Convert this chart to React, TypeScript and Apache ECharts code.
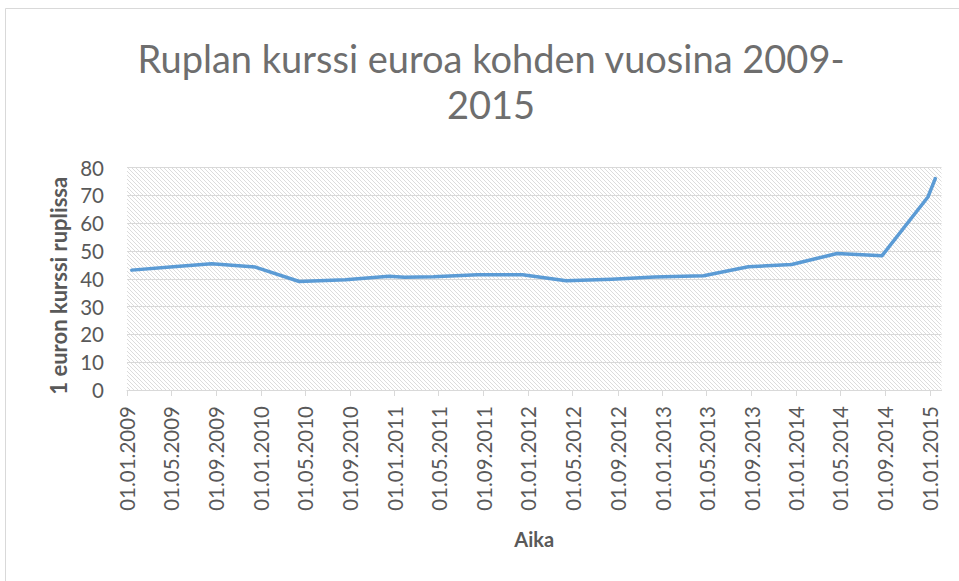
import React, { useEffect, useRef } from "react";
import * as echarts from "echarts";

const titleText = "Ruplan kurssi euroa kohden vuosina 2009-\n2015";
const yAxisTitle = "1 euron kurssi ruplissa";
const xAxisTitle = "Aika";

const dates = [
  "2009-01-14", "2009-05-07", "2009-08-20", "2009-12-17", "2010-04-16",
  "2010-08-20", "2010-12-17", "2011-01-28", "2011-04-17", "2011-08-15",
  "2011-12-16", "2012-04-13", "2012-08-15", "2012-12-10", "2013-04-23",
  "2013-08-23", "2013-12-19", "2014-04-22", "2014-08-23", "2014-12-26",
  "2015-01-15",
];
const rates = [
  43.1, 44.3, 45.4, 44.2, 39.0,
  39.6, 40.9, 40.5, 40.7, 41.4,
  41.4, 39.3, 39.8, 40.6, 41.1,
  44.3, 45.1, 49.1, 48.3, 69.4,
  76.0,
];

const tickLabels = [
  "01.01.2009", "01.05.2009", "01.09.2009", "01.01.2010", "01.05.2010",
  "01.09.2010", "01.01.2011", "01.05.2011", "01.09.2011", "01.01.2012",
  "01.05.2012", "01.09.2012", "01.01.2013", "01.05.2013", "01.09.2013",
  "01.01.2014", "01.05.2014", "01.09.2014", "01.01.2015",
];
const xMinDate = "01.01.2009";
const xMaxDate = "01.02.2015";
const yTicks = [0, 10, 20, 30, 40, 50, 60, 70, 80];

const isoToTs = (s: string) => {
  const [y, m, d] = s.split("-").map(Number);
  return Date.UTC(y, m - 1, d);
};
const fiToTs = (s: string) => {
  const [d, m, y] = s.split(".").map(Number);
  return Date.UTC(y, m - 1, d);
};

const FONT = "Lato, 'Open Sans', sans-serif";
const TEXT = "#595959";
const LIGHT = "#d9d9d9";

const hatchSvg =
  "data:image/svg+xml;charset=utf-8," +
  encodeURIComponent(
    "<svg xmlns='http://www.w3.org/2000/svg' width='4' height='4'>" +
      "<path d='M-1,-1 L5,5 M-1,3 L1,5 M3,-1 L5,1' stroke='#dcdcdc' stroke-width='1' fill='none'/>" +
      "</svg>"
  );

export default function App() {
  const ref = useRef<HTMLDivElement>(null);

  useEffect(() => {
    if (!ref.current) return;
    const chart = echarts.init(ref.current, undefined, { renderer: "svg" });
    const tickTs = tickLabels.map(fiToTs);
    const labelMap = new Map<number, string>();
    tickTs.forEach((t, i) => labelMap.set(t, tickLabels[i]));
    const seriesData = dates.map((d, i) => [isoToTs(d), rates[i]]);

    chart.setOption({
      animation: false,
      backgroundColor: "#ffffff",
      textStyle: { fontFamily: FONT },
      graphic: [
        {
          type: "rect",
          shape: { x: 5.5, y: 8.5, width: 1000, height: 1000 },
          style: { fill: "none", stroke: LIGHT, lineWidth: 1 },
          silent: true,
        },
        {
          type: "text",
          x: 491,
          y: 35,
          style: {
            text: titleText,
            fill: "#6e6e6e",
            font: `38px ${FONT}`,
            textAlign: "center",
            lineHeight: 46,
          },
        },
      ],
      grid: {
        show: true,
        left: 127,
        right: 17.5,
        top: 167.5,
        bottom: 191,
        borderWidth: 0,
        backgroundColor: {
          image: hatchSvg,
          repeat: "repeat",
          imageWidth: 4,
          imageHeight: 4,
        },
      },
      xAxis: {
        type: "value",
        min: fiToTs(xMinDate),
        max: fiToTs(xMaxDate),
        name: xAxisTitle,
        nameLocation: "middle",
        nameGap: 139,
        nameTextStyle: {
          color: TEXT,
          fontSize: 20,
          fontWeight: "bold",
          fontFamily: FONT,
        },
        axisLine: { show: true, lineStyle: { color: LIGHT, width: 1 } },
        axisTick: {
          show: true,
          length: 6,
          customValues: tickTs,
          lineStyle: { color: LIGHT },
        },
        axisLabel: {
          customValues: tickTs,
          rotate: 90,
          margin: 16,
          color: TEXT,
          fontSize: 20.5,
          fontFamily: FONT,
          formatter: (v: number) => labelMap.get(v) ?? "",
        },
        splitLine: { show: false },
      },
      yAxis: {
        type: "value",
        min: yTicks[0],
        max: yTicks[yTicks.length - 1],
        interval: yTicks[1] - yTicks[0],
        name: yAxisTitle,
        nameLocation: "middle",
        nameRotate: 90,
        nameGap: 55,
        nameTextStyle: {
          color: TEXT,
          fontSize: 22,
          fontWeight: "bold",
          fontFamily: FONT,
          padding: [0, 14, 0, 0],
        },
        axisLine: { show: false },
        axisTick: { show: false },
        axisLabel: {
          color: TEXT,
          fontSize: 20.5,
          fontFamily: FONT,
          margin: 23,
        },
        splitLine: { show: true, lineStyle: { color: LIGHT, width: 1 } },
      },
      series: [
        {
          type: "line",
          data: seriesData,
          showSymbol: false,
          symbol: "none",
          lineStyle: { color: "#5b9bd5", width: 3.5, cap: "round", join: "round" },
          itemStyle: { color: "#5b9bd5" },
        },
      ],
    });

    return () => chart.dispose();
  }, []);

  return (
    <div
      ref={ref}
      style={{ position: "absolute", left: 0, top: 0, width: 959, height: 581 }}
    />
  );
}
